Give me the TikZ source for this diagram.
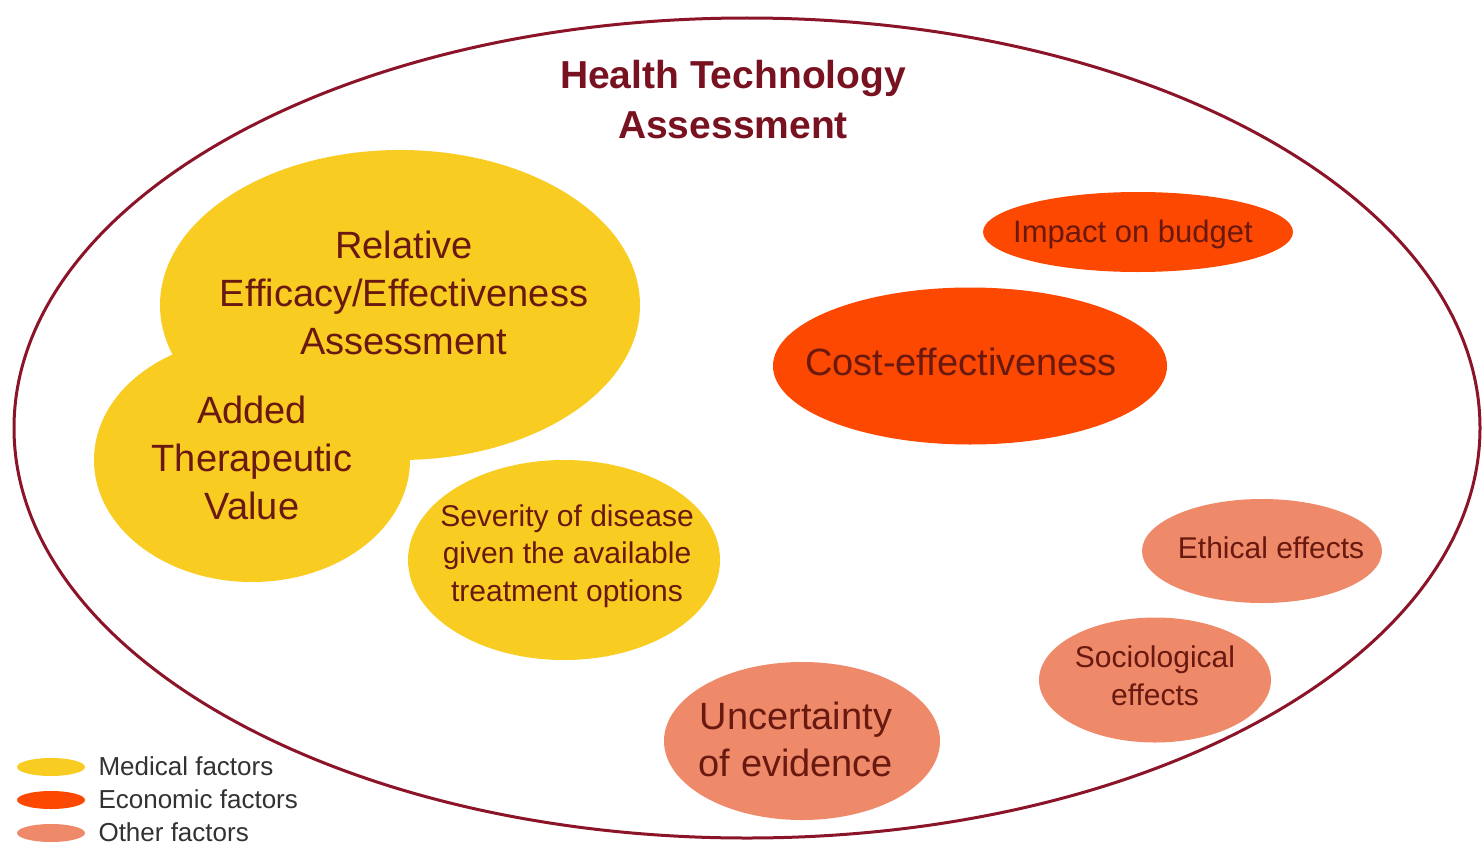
\documentclass[tikz,border=0pt]{standalone}
\usepackage{fontspec}
\setmainfont{Liberation Sans}
\usetikzlibrary{shapes.geometric}

\definecolor{medicalfill}{RGB}{249,204,34}
\definecolor{economicfill}{RGB}{252,72,0}
\definecolor{otherfill}{RGB}{238,138,106}
\definecolor{outerline}{RGB}{140,20,40}
\definecolor{titlered}{RGB}{120,18,32}
\definecolor{factortext}{RGB}{105,25,15}
\definecolor{legendtext}{RGB}{50,50,50}

\tikzset{
  factor/.style={ellipse, inner sep=0pt},
  medical/.style={factor, fill=medicalfill},
  economic/.style={factor, fill=economicfill},
  other/.style={factor, fill=otherfill},
  factor text/.style={text=factortext, align=center},
  big text/.style={factor text, font=\fontsize{38}{48}\selectfont},
  small text/.style={factor text, font=\fontsize{30}{37.5}\selectfont},
  legend key/.style={ellipse, inner sep=0pt, minimum width=68pt, minimum height=18pt},
  legend text/.style={anchor=west, text=legendtext, font=\fontsize{26}{30}\selectfont}
}

\begin{document}
\begin{tikzpicture}[x=1pt, y=-1pt]
    \useasboundingbox (0,0) rectangle (1482,843);
    \fill[white] (0,0) rectangle (1482,843);

    % The whole assessment
    \draw[outerline, line width=3pt] (747,428) ellipse [x radius=733pt, y radius=410pt];
    \node[text=titlered, align=center, font=\bfseries\fontsize{39}{50}\selectfont] (hta) at (733,100) {Health Technology\\Assessment};

    % Medical factors
    \node[medical, minimum width=480pt, minimum height=310pt] (rea) at (400,305) {};
    \node[medical, minimum width=316pt, minimum height=244pt] (atv) at (252,460) {};
    \node[medical, minimum width=312pt, minimum height=200pt] (severity) at (564,560) {};

    % Economic factors
    \node[economic, minimum width=310pt, minimum height=80pt] (budget) at (1138,232) {};
    \node[economic, minimum width=394pt, minimum height=157pt] (costeff) at (970,366) {};

    % Other factors
    \node[other, minimum width=240pt, minimum height=104pt] (ethical) at (1262,551) {};
    \node[other, minimum width=232pt, minimum height=125pt] (socio) at (1155,680) {};
    \node[other, minimum width=276pt, minimum height=158pt] (uncertainty) at (802,741) {};

    % Texts on top of the shapes
    \node[big text] (reatext) at (404,293) {Relative\\Efficacy/Effectiveness\\Assessment};
    \node[big text] (atvtext) at (252,458) {Added\\Therapeutic\\Value};
    \node[small text] (severitytext) at (567,556) {Severity of disease\\given the available\\treatment options};
    \node[factor text, font=\fontsize{31}{37}\selectfont] (budgettext) at (1133,234) {Impact on budget};
    \node[big text] (costefftext) at (961,362) {Cost-effectiveness};
    \node[small text] (ethicaltext) at (1271,548) {Ethical effects};
    \node[small text] (sociotext) at (1155,676) {Sociological\\effects};
    \node[factor text, font=\fontsize{38}{47}\selectfont] (uncertaintytext) at (796,739) {Uncertainty\\of evidence};

    % Legend
    \node[legend key, fill=medicalfill] (keymed) at (51,767) {};
    \node[legend text] (labmed) at (95,766) {Medical factors};
    \node[legend key, fill=economicfill] (keyeco) at (51,800) {};
    \node[legend text] (labeco) at (95,799) {Economic factors};
    \node[legend key, fill=otherfill] (keyoth) at (51,833) {};
    \node[legend text] (laboth) at (95,832) {Other factors};
\end{tikzpicture}
\end{document}
